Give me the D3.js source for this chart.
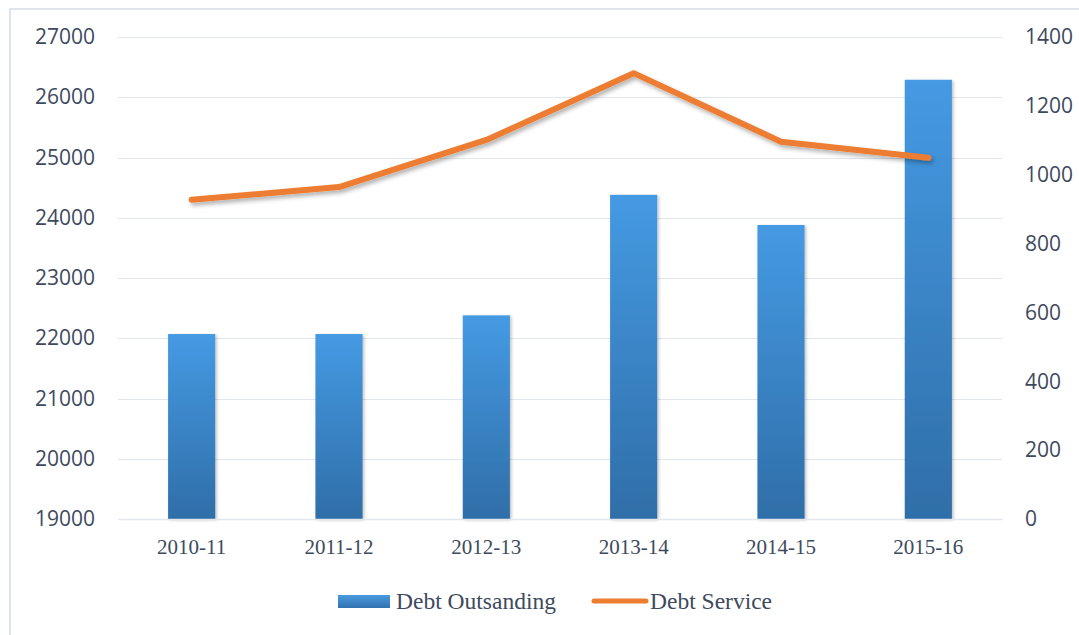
<!DOCTYPE html>
<html>
<head>
<meta charset="utf-8">
<script src="https://cdn.jsdelivr.net/npm/d3@7"></script>
<style>
  html, body { margin: 0; padding: 0; background: #fff; }
  svg { display: block; }
</style>
</head>
<body>
<svg id="chart" width="1079" height="635"></svg>
<script>
// Fiscal years and the two series
const categories = ["2010-11", "2011-12", "2012-13", "2013-14", "2014-15", "2015-16"];
const debtOutstanding = [22070, 22070, 22380, 24380, 23880, 26290];
const debtService = [927, 964, 1101, 1295, 1096, 1049];
const leftTicks = [19000, 20000, 21000, 22000, 23000, 24000, 25000, 26000, 27000];
const rightTicks = [0, 200, 400, 600, 800, 1000, 1200, 1400];
const seriesNames = ["Debt Outsanding", "Debt Service"];

const svg = d3.select("#chart");
const W = 1079, H = 635;
const plot = { left: 118, right: 1002, top: 37, bottom: 519 };

const textColor = "#3d4a5e";
const gridColor = "#e2e7ee";
const sans = "'Open Sans', 'Noto Sans', sans-serif";
const serif = "'Liberation Serif', 'DejaVu Serif', serif";

// Outer frame
svg.append("rect")
  .attr("x", 10).attr("y", 9)
  .attr("width", W + 20).attr("height", H + 20)
  .attr("fill", "none").attr("stroke", "#dfe4ec").attr("stroke-width", 2);

const defs = svg.append("defs");
const grad = defs.append("linearGradient").attr("id", "barGrad")
  .attr("x1", 0).attr("y1", 0).attr("x2", 0).attr("y2", 1);
grad.append("stop").attr("offset", "0%").attr("stop-color", "#459ae3");
grad.append("stop").attr("offset", "100%").attr("stop-color", "#2f6ea8");

const lgGrad = defs.append("linearGradient").attr("id", "legGrad")
  .attr("x1", 0).attr("y1", 0).attr("x2", 0).attr("y2", 1);
lgGrad.append("stop").attr("offset", "0%").attr("stop-color", "#4a9ae0");
lgGrad.append("stop").attr("offset", "100%").attr("stop-color", "#3272b0");

const barShadow = defs.append("filter").attr("id", "barShadow")
  .attr("x", "-20%").attr("y", "-10%").attr("width", "150%").attr("height", "130%");
barShadow.append("feDropShadow").attr("dx", 1.5).attr("dy", 1).attr("stdDeviation", 1.5)
  .attr("flood-color", "#000").attr("flood-opacity", 0.25);

const lineShadow = defs.append("filter").attr("id", "lineShadow")
  .attr("x", "-10%").attr("y", "-20%").attr("width", "120%").attr("height", "160%");
lineShadow.append("feDropShadow").attr("dx", 2).attr("dy", 3).attr("stdDeviation", 2)
  .attr("flood-color", "#000").attr("flood-opacity", 0.3);

// Scales
const x = d3.scaleBand().domain(categories)
  .range([plot.left, plot.right]).paddingInner(0.68).paddingOuter(0.34);
const yL = d3.scaleLinear().domain([19000, 27000]).range([plot.bottom, plot.top]);
const yR = d3.scaleLinear().domain([0, 1400]).range([plot.bottom, plot.top]);

// Horizontal gridlines
svg.append("g").selectAll("line").data(leftTicks).join("line")
  .attr("x1", plot.left).attr("x2", plot.right)
  .attr("y1", d => Math.round(yL(d)) + 0.5).attr("y2", d => Math.round(yL(d)) + 0.5)
  .attr("stroke", gridColor).attr("stroke-width", 1.2);

// Left axis
const axisL = svg.append("g")
  .attr("transform", `translate(${plot.left},0)`)
  .call(d3.axisLeft(yL).tickValues(leftTicks).tickSize(0).tickPadding(23).tickFormat(d3.format("d")));
axisL.select(".domain").remove();
axisL.selectAll("text").attr("fill", textColor).style("font-family", sans)
  .style("font-size", "21px").style("font-weight", 500);

// Right axis
const axisR = svg.append("g")
  .attr("transform", `translate(${plot.right},0)`)
  .call(d3.axisRight(yR).tickValues(rightTicks).tickSize(0).tickPadding(23).tickFormat(d3.format("d")));
axisR.select(".domain").remove();
axisR.selectAll("text").attr("fill", textColor).style("font-family", sans)
  .style("font-size", "21px").style("font-weight", 500);

// Bars
svg.append("g").selectAll("rect").data(categories).join("rect")
  .attr("x", d => x(d))
  .attr("y", (d, i) => yL(debtOutstanding[i]))
  .attr("width", x.bandwidth())
  .attr("height", (d, i) => yL(19000) - yL(debtOutstanding[i]))
  .attr("fill", "url(#barGrad)")
  .attr("filter", "url(#barShadow)");

// Category axis
const axisB = svg.append("g")
  .attr("transform", `translate(0,${plot.bottom})`)
  .call(d3.axisBottom(x).tickSize(0).tickPadding(20));
axisB.select(".domain").attr("stroke", gridColor).attr("stroke-width", 1.5);
axisB.selectAll("text").attr("fill", textColor).style("font-family", serif).style("font-size", "21px");

// Debt service line
const line = d3.line()
  .x((d, i) => x(categories[i]) + x.bandwidth() / 2)
  .y(d => yR(d));
svg.append("path").datum(debtService)
  .attr("d", line)
  .attr("fill", "none")
  .attr("stroke", "#ed7d31")
  .attr("stroke-width", 6)
  .attr("stroke-linecap", "round")
  .attr("stroke-linejoin", "round")
  .attr("filter", "url(#lineShadow)");

// Legend
const legend = svg.append("g");
legend.append("rect")
  .attr("x", 338).attr("y", 595).attr("width", 52).attr("height", 13)
  .attr("fill", "url(#legGrad)");
legend.append("text")
  .attr("x", 396).attr("y", 609)
  .attr("fill", textColor).style("font-family", serif).style("font-size", "23.5px")
  .text(seriesNames[0]);
legend.append("line")
  .attr("x1", 594).attr("x2", 646).attr("y1", 601).attr("y2", 601)
  .attr("stroke", "#ed7d31").attr("stroke-width", 5).attr("stroke-linecap", "round");
legend.append("text")
  .attr("x", 650).attr("y", 609)
  .attr("fill", textColor).style("font-family", serif).style("font-size", "23.5px")
  .text(seriesNames[1]);
</script>
</body>
</html>
